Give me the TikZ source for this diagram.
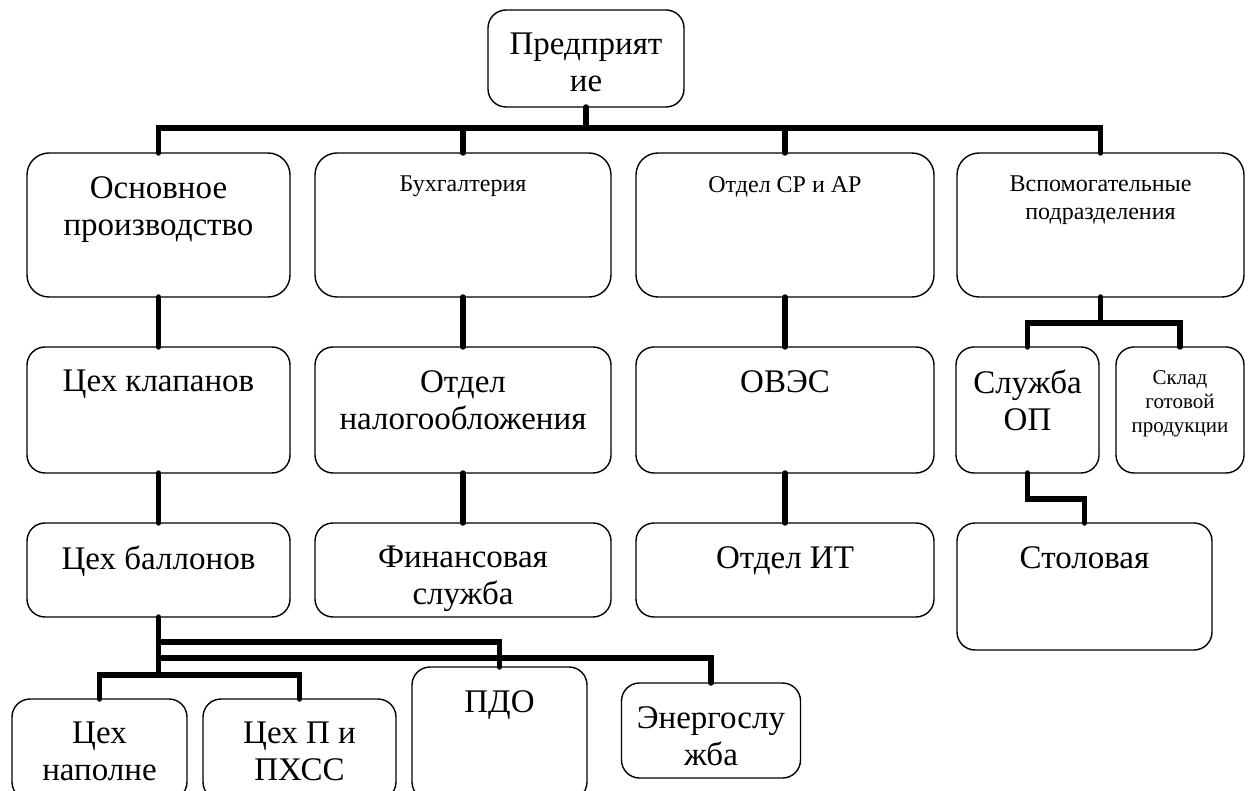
\documentclass[tikz,border=0pt]{standalone}
\usepackage{fontspec}
\setmainfont{Liberation Serif}
\usetikzlibrary{positioning,calc}

\begin{document}
\begin{tikzpicture}[
  x=1pt, y=-1pt,
  unit/.style={draw, rounded corners=18pt, line width=1.4pt, inner sep=0pt,
               outer sep=0pt},
  tall/.style={unit, rounded corners=22pt, minimum height=144pt},
  lbl/.style={anchor=north, inner sep=0pt, align=center, yshift=-23pt},
  bigtxt/.style={font=\fontsize{33}{37}\selectfont},
  smalltxt/.style={font=\fontsize{24}{28}\selectfont},
  tinytxt/.style={font=\fontsize{21}{24}\selectfont},
  conn/.style={line width=5.5pt, line cap=round}
]
  \fill[white] (0,0) rectangle (1253,791);
  \useasboundingbox (0,0) rectangle (1253,791);
  \clip (0,0) rectangle (1253,791);

  \node[unit, minimum width=196pt, minimum height=97pt,
        label={[lbl, bigtxt]north:Предприят\\ие}] (pred) at (586,58.5) {};

  % first level
  \node[tall, minimum width=263pt,
        label={[lbl, bigtxt]north:Основное\\производство}] (osn) at (158.5,225) {};
  \node[tall, minimum width=296pt,
        label={[lbl, smalltxt]north:Бухгалтерия}] (buh) at (463,225) {};
  \node[tall, minimum width=298pt,
        label={[lbl, smalltxt]north:Отдел СР и АР}] (otd) at (785,225) {};
  \node[tall, minimum width=287pt,
        label={[lbl, smalltxt]north:Вспомогательные\\подразделения}] (vsp) at (1100.5,225) {};

  % second level
  \node[unit, minimum width=263pt, minimum height=126pt,
        label={[lbl, bigtxt]north:Цех клапанов}] (klap) at (158.5,410) {};
  \node[unit, minimum width=296pt, minimum height=126pt,
        label={[lbl, bigtxt]north:Отдел\\налогообложения}] (nalog) at (463,410) {};
  \node[unit, minimum width=298pt, minimum height=126pt,
        label={[lbl, bigtxt]north:ОВЭС}] (ovs) at (785,410) {};
  \node[unit, minimum width=143pt, minimum height=126pt,
        label={[lbl, bigtxt]north:Служба\\ОП}] (sluzh) at (1027.5,410) {};
  \node[unit, minimum width=128pt, minimum height=126pt,
        label={[lbl, tinytxt]north:Склад\\готовой\\продукции}] (sklad) at (1180,410) {};

  % third level
  \node[unit, minimum width=263pt, minimum height=94pt,
        label={[lbl, bigtxt]north:Цех баллонов}] (ball) at (158.5,570) {};
  \node[unit, minimum width=296pt, minimum height=94pt,
        label={[lbl, bigtxt]north:Финансовая\\служба}] (fin) at (463,570) {};
  \node[unit, minimum width=298pt, minimum height=94pt,
        label={[lbl, bigtxt]north:Отдел ИТ}] (it) at (785,570) {};
  \node[unit, minimum width=255pt, minimum height=127pt,
        label={[lbl, bigtxt]north:Столовая}] (stol) at (1084.5,586.5) {};

  % shops under Цех баллонов
  \node[unit, minimum width=175pt, minimum height=101pt,
        label={[lbl, bigtxt]north:Цех\\наполне}] (napol) at (99.5,749.5) {};
  \node[unit, minimum width=193pt, minimum height=101pt,
        label={[lbl, bigtxt]north:Цех П и\\ПХСС}] (pchss) at (299.5,749.5) {};
  \node[unit, minimum width=175pt, minimum height=133pt,
        label={[lbl, bigtxt]north:ПДО}] (pdo) at (499.5,733.5) {};
  \node[unit, minimum width=179pt, minimum height=95pt,
        label={[lbl, bigtxt]north:Энергослу\\жба}] (energ) at (711,730.5) {};

  \coordinate (busA) at (0,128);
  \coordinate (busB) at (0,323);
  \coordinate (jog) at (0,499);
  \coordinate (lowA) at (0,642);
  \coordinate (lowB) at (0,658);
  \coordinate (lowC) at (0,675);

  \draw[conn] (pred.south) -- (pred.south |- busA);
  \draw[conn] (osn.north) |- (vsp.north |- busA) -- (vsp.north);
  \draw[conn] (buh.north) -- (buh.north |- busA);
  \draw[conn] (otd.north) -- (otd.north |- busA);

  \draw[conn] (osn.south) -- (klap.north);
  \draw[conn] (klap.south) -- (ball.north);
  \draw[conn] (buh.south) -- (nalog.north);
  \draw[conn] (nalog.south) -- (fin.north);
  \draw[conn] (otd.south) -- (ovs.north);
  \draw[conn] (ovs.south) -- (it.north);

  \draw[conn] (vsp.south) -- (vsp.south |- busB);
  \draw[conn] (sluzh.north) |- (sklad.north |- busB) -- (sklad.north);
  \draw[conn] (sluzh.south) -- (sluzh.south |- jog) -| (stol.north);

  \draw[conn] (ball.south) -- (ball.south |- lowC);
  \draw[conn] (ball.south |- lowA) -| (pdo.north);
  \draw[conn] (ball.south |- lowB) -| (energ.north);
  \draw[conn] (napol.north) |- (pchss.north |- lowC) -- (pchss.north);
\end{tikzpicture}
\end{document}
